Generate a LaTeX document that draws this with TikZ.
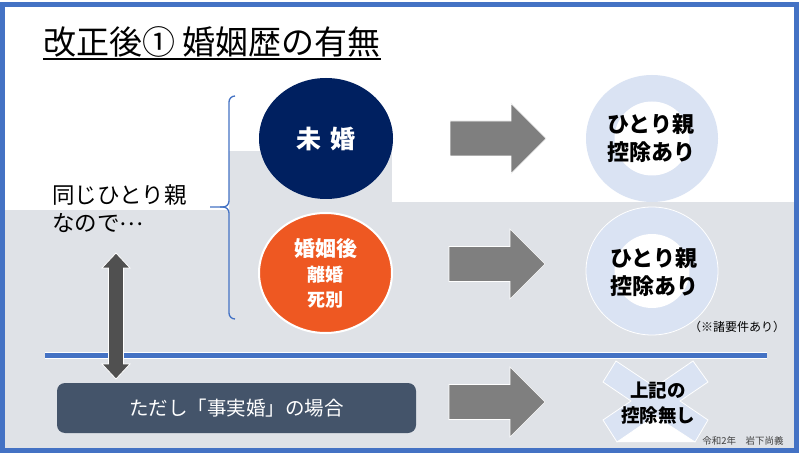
\documentclass[tikz,border=0pt]{standalone}
\usepackage{fontspec}
\setmainfont{Noto Sans CJK JP}
\usetikzlibrary{shapes.geometric}
\definecolor{frameblue}{HTML}{4472C4}
\definecolor{bggrey}{RGB}{223,226,231}
\definecolor{navy}{HTML}{002060}
\definecolor{orangec}{RGB}{238,88,34}
\definecolor{arrowgrey}{HTML}{7F7F7F}
\definecolor{darkarrow}{HTML}{505050}
\definecolor{ringblue}{HTML}{DAE3F3}
\definecolor{slate}{HTML}{44546A}
\definecolor{credit}{HTML}{404040}
\tikzset{
  blockarrow/.pic={\fill[arrowgrey, draw=white, line width=0.6pt]
    (0,-17.5) -- (61,-17.5) -- (61,-35) -- (96,0) -- (61,35) -- (61,17.5) -- (0,17.5) -- cycle;},
  ringouter/.style={ellipse, fill=ringblue, minimum width=132pt, minimum height=127pt, inner sep=0},
  ringhole/.style={ellipse, fill=white, minimum width=75pt, minimum height=74pt, inner sep=0},
  ringtext/.style={align=center, inner sep=0, font=\bfseries\fontsize{22pt}{28pt}\selectfont},
  sametext/.style={anchor=west, inner sep=0, font=\fontsize{22.5pt}{27pt}\selectfont},
}
\begin{document}
\begin{tikzpicture}[x=1pt,y=-1pt]
\useasboundingbox (0,0) rectangle (800,454);
\fill[white] (0,0) rectangle (800,454);
% grey background
\fill[bggrey] (5,210) rectangle (229,449);
\fill[bggrey] (229,151) rectangle (392,449);
\fill[bggrey] (392,202) rectangle (794,449);
% frame
\draw[frameblue, line width=5pt] (2.5,4.5) rectangle (796.5,450.5);

% title
\node[anchor=west, inner sep=0, font=\fontsize{33pt}{38pt}\selectfont] (title) at (43,42) {改正後① 婚姻歴の有無};
\coordinate (ul) at (0,59);
\draw[line width=1.4pt] (title.west |- ul) -- (title.east |- ul);

% bracket
\coordinate (btop) at (235,96);
\coordinate (bmid) at (229,207);
\coordinate (btip) at (210,207);
\coordinate (bbot) at (235,319);
\draw[frameblue, line width=1.3pt, rounded corners=6pt] (btop) -- (229,96) -- (bmid) -- (btip);
\draw[frameblue, line width=1.3pt, rounded corners=6pt] (bbot) -- (229,319) -- (bmid) -- (220,207);

% left text
\node[sametext] (same1) at (52,195) {同じひとり親};
\node[sametext] (same2) at (52,223) {なので\raisebox{0.25em}{…}};

% circles
\node[ellipse, fill=navy, minimum width=134pt, minimum height=121pt, inner sep=0, text=white,
  font=\bfseries\fontsize{25pt}{30pt}\selectfont] (mikon) at (326,138.5) {未\hspace{9pt}婚};
\node[ellipse, fill=orangec, draw=white, line width=2pt, minimum width=133pt, minimum height=120pt,
  inner sep=0, text=white, align=center, font=\bfseries\fontsize{18pt}{25pt}\selectfont] (rikon) at (325.5,273)
  {{\fontsize{21pt}{25pt}\selectfont 婚姻後}\\離婚\\死別};

% arrows
\pic at (450,138.5) {blockarrow};
\pic at (449,264) {blockarrow};
\pic at (449,402) {blockarrow};

% rings
\node[ringouter] (ring1) at (652,138.5) {};
\node[ringhole] (hole1) at (ring1) {};
\node[ringtext] (res1) at (651,138.5) {ひとり親\\控除あり};
\node[ringouter, draw=white, line width=0.8pt, minimum height=128pt] (ring2) at (652,271) {};
\node[ringhole] (hole2) at (ring2) {};
\node[ringtext] (res2) at (654,272) {ひとり親\\控除あり};
\node[inner sep=0, font=\fontsize{12pt}{14pt}\selectfont] (note) at (737,327) {（※諸要件あり）};

% blue rule
\coordinate (la) at (45,355);
\coordinate (lb) at (767,355);
\draw[white, line width=7pt] (la) -- (lb);
\draw[frameblue, line width=5pt] (la) -- (lb);

% double arrow
\fill[darkarrow, draw=white, line width=0.8pt] (116,253) -- (130,268) -- (123.5,268) -- (123.5,364) -- (130,364)
  -- (116,379) -- (102,364) -- (108.5,364) -- (108.5,268) -- (102,268) -- cycle;

% de facto marriage box
\node[rounded corners=8pt, fill=slate, minimum width=359pt, minimum height=50pt, inner sep=0, text=white,
  font=\fontsize{19.5pt}{24pt}\selectfont] (jijitsu) at (236.5,408) {ただし「事実婚」の場合};

% X shape
\fill[ringblue, draw=white, line width=0.8pt] (616,361) -- (655,387) -- (693,361) -- (708,382) -- (680,401)
  -- (708,420) -- (695,442) -- (655,416) -- (617,442) -- (603,420) -- (631,401) -- (603,382) -- cycle;
\fill[white] (617,442) -- (655,416) -- (695,442) -- cycle;
\node[align=center, inner sep=0, font=\bfseries\fontsize{18.5pt}{25pt}\selectfont] (nashi) at (658,403.5) {上記の\\控除無し};

% credit
\node[inner sep=0, text=credit, font=\fontsize{9.5pt}{11pt}\selectfont] (credit) at (743,441) {令和2年　岩下尚義};
\end{tikzpicture}
\end{document}
